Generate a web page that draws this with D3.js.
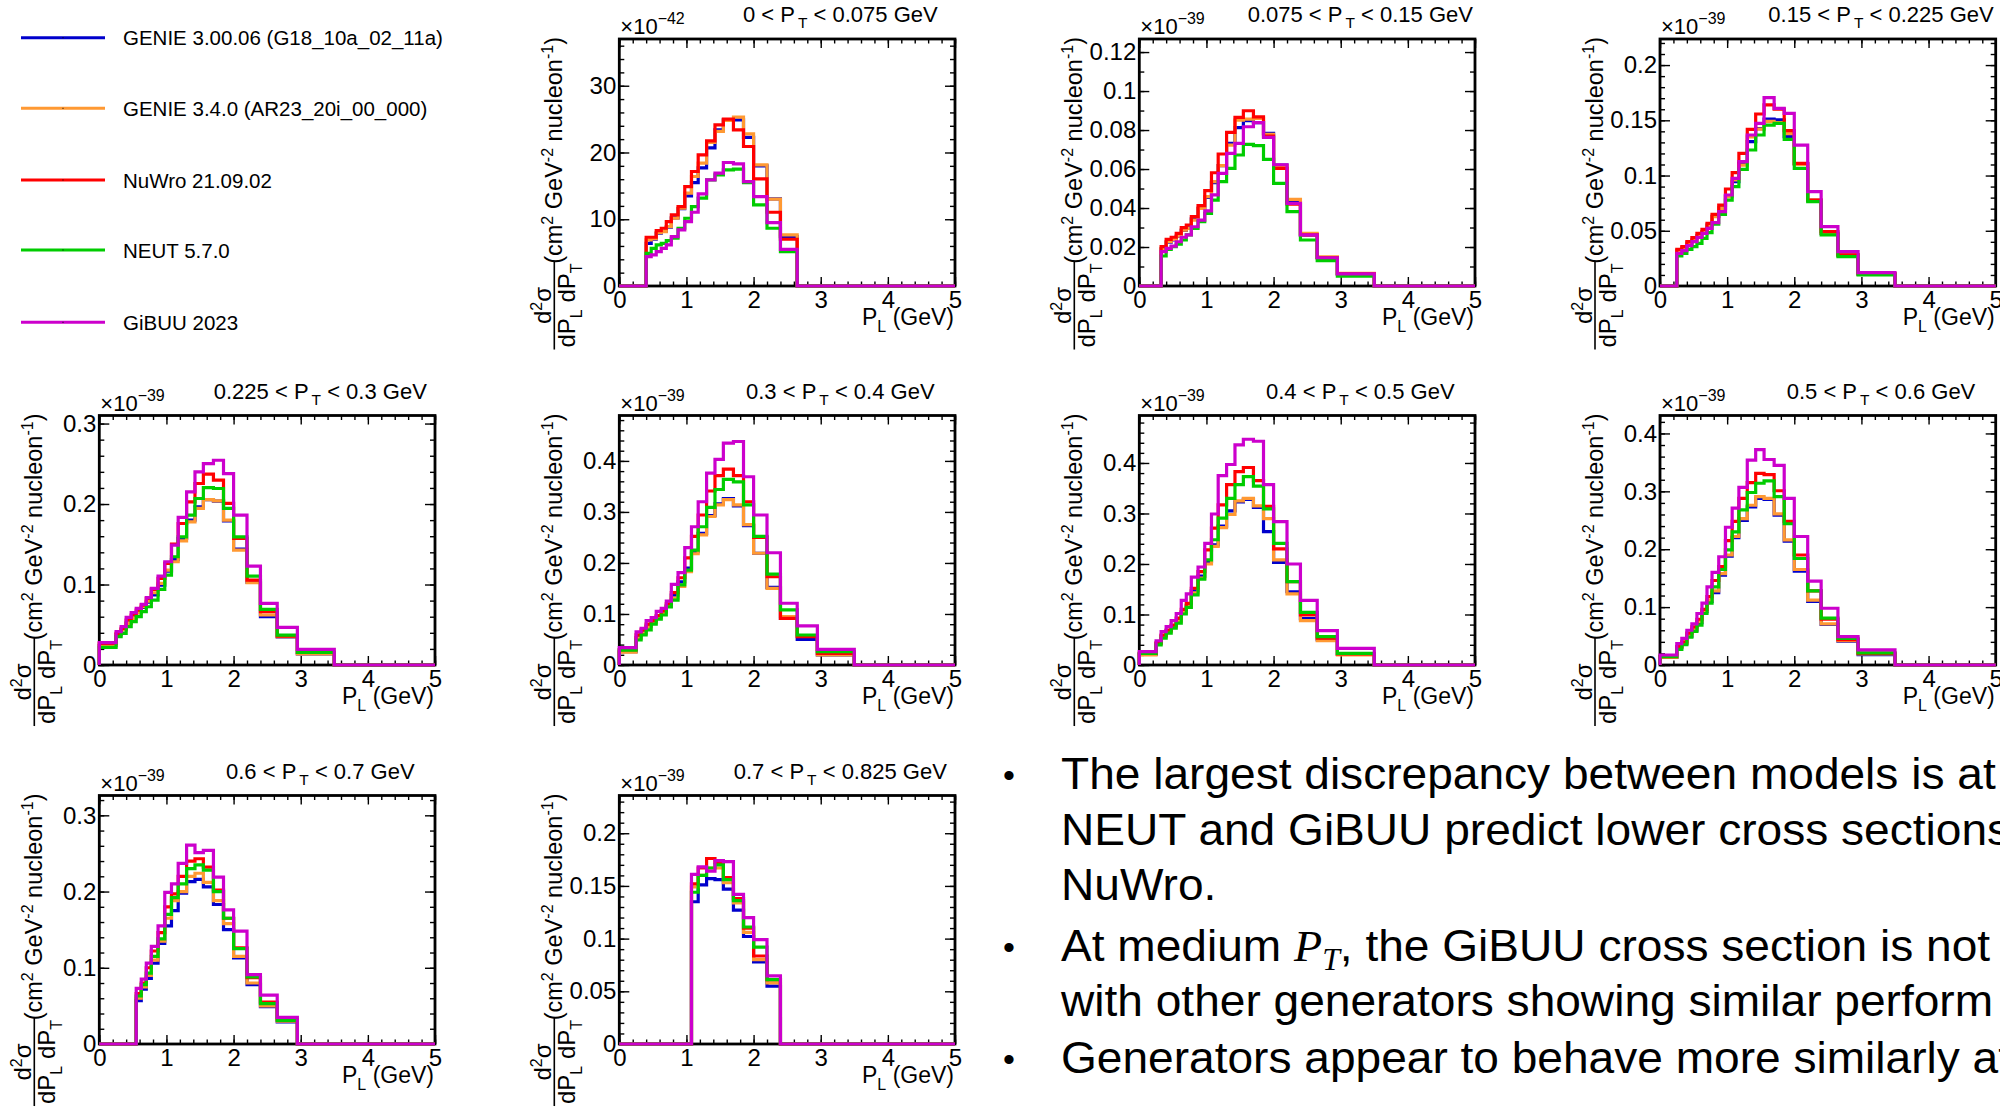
<!DOCTYPE html>
<html><head><meta charset="utf-8">
<script src="https://cdn.jsdelivr.net/npm/d3@7"></script>
<style>
html,body{margin:0;padding:0;background:#fff;overflow:hidden;}
svg{display:block;}
text{font-family:"Liberation Sans",Arial,Helvetica,sans-serif;fill:#000;}
</style></head><body>
<svg id="c" width="2000" height="1107"></svg>
<script>
// ---------------- DATA ----------------
const plEdges = [0,0.25,0.325,0.4,0.475,0.55,0.625,0.7,0.775,0.875,0.975,1.075,1.175,1.3,1.425,1.55,1.7,1.85,2.0,2.2,2.4,2.65,2.95,3.5,5];
const ptLow  = ["0","0.075","0.15","0.225","0.3","0.4","0.5","0.6","0.7"];
const ptHigh = ["0.075","0.15","0.225","0.3","0.4","0.5","0.6","0.7","0.825"];
const yExponent = ["42","39","39","39","39","39","39","39","39"];
const yMax   = [37, 0.1267, 0.2236, 0.310, 0.489, 0.494, 0.431, 0.326, 0.2358];
const yMajor = [10, 0.02, 0.05, 0.1, 0.1, 0.1, 0.1, 0.1, 0.05];
const yMinor = [2, 0.01, 0.01, 0.02, 0.02, 0.02, 0.02, 0.02, 0.01];
const xMajorTicks = [0,1,2,3,4,5];
const generators = ["GENIE 3.00.06 (G18_10a_02_11a)","GENIE 3.4.0 (AR23_20i_00_000)","NuWro 21.09.02","NEUT 5.7.0","GiBUU 2023"];

const genie3006 = [
 [0,0,0,6.4,7.0,7.9,8.2,8.8,10.2,11.6,13.5,15.5,17.7,20.7,23.4,24.9,24.9,22.25,18.0,13.05,7.4,0,0,0],
 [0,0,.019,.0225,.0237,.0255,.0285,.0298,.0345,.0398,.0455,.053,.0617,.0732,.0812,.0848,.0838,.0783,.062,.0432,.0262,.0145,.0062,0],
 [0,.032,.0344,.0386,.0416,.0453,.0492,.0552,.063,.0705,.0815,.0944,.111,.1307,.1425,.1512,.1503,.1352,.1105,.0775,.0477,.028,.0109,0],
 [.024,.0378,.0438,.052,.058,.065,.0715,.078,.087,.0993,.1165,.131,.1572,.18,.1965,.2056,.2035,.1791,.144,.103,.06,.035,.0137,0],
 [.026,.053,.063,.076,.085,.094,.104,.116,.137,.163,.19,.222,.258,.293,.316,.326,.312,.273,.219,.152,.0915,.05,.02,0],
 [.021,.043,.057,.067,.077,.088,.105,.118,.147,.176,.205,.238,.275,.305,.323,.328,.312,.264,.203,.145,.092,.05,.021,0],
 [.013,.03,.037,.05,.06,.073,.092,.11,.125,.155,.188,.22,.25,.273,.288,.286,.259,.214,.162,.11,.07,.041,.018,0],
 [0,0,0,0,0,.057,.072,.086,.106,.132,.155,.175,.198,.213,.216,.206,.183,.15,.113,.078,.049,.029,0,0],
 [0,0,0,0,0,0,0,0,0,0,0,.135,.151,.157,.156,.147,.127,.102,.078,.055,0,0,0,0]
];
const genie340 = [
 [0,0,0,6.9,7.1,8.0,8.15,8.9,10.15,11.65,13.9,16.4,18.4,21.5,23.15,24.8,25.3,22.8,18.15,13.0,7.65,0,0,0],
 [0,0,.0193,.0227,.0239,.0256,.0287,.0296,.0338,.0398,.0458,.0535,.0617,.0723,.0851,.0856,.086,.0778,.0617,.0444,.027,.015,.0065,0],
 [0,.032,.0344,.0386,.0416,.0453,.0492,.0552,.0628,.0703,.0809,.096,.1095,.135,.142,.149,.148,.138,.1101,.0778,.0477,.0281,.0109,0],
 [.0248,.038,.044,.0517,.0579,.065,.0724,.0794,.0898,.1014,.1179,.1283,.1543,.1779,.1945,.2056,.204,.18,.1427,.1022,.0621,.0352,.0137,0],
 [.025,.052,.062,.075,.083,.093,.103,.115,.131,.154,.183,.218,.255,.291,.314,.324,.314,.275,.219,.150,.095,.057,.0196,0],
 [.02,.042,.056,.066,.076,.087,.104,.116,.143,.172,.2,.235,.272,.298,.325,.33,.315,.29,.208,.141,.088,.048,.02,0],
 [.013,.031,.038,.052,.062,.075,.094,.112,.128,.158,.19,.222,.253,.276,.291,.288,.261,.216,.165,.112,.071,.042,.019,0],
 [0,0,0,0,0,.06,.075,.09,.11,.135,.165,.188,.2,.22,.224,.212,.188,.158,.115,.08,.05,.03,0,0],
 [0,0,0,0,0,0,0,0,0,0,0,.149,.16,.167,.167,.153,.134,.106,.08,.058,0,0,0,0]
];
const nuwro = [
 [0,0,0,7.3,7.3,8.3,8.65,9.65,10.65,11.9,14.9,17.15,19.65,21.75,24.15,25.0,23.4,20.9,16.05,11.05,7.0,0,0,0],
 [0,0,.0202,.0239,.025,.027,.0299,.0313,.0356,.0412,.0489,.0581,.0677,.0788,.0865,.0899,.0868,.0769,.0603,.042,.0262,.0145,.0062,0],
 [0,.0332,.0356,.0401,.0438,.0477,.0513,.0567,.0649,.0733,.0878,.1026,.1201,.1418,.1557,.1639,.1602,.1406,.111,.0778,.0492,.0281,.0109,0],
 [.0269,.0393,.0455,.0559,.0621,.0683,.0745,.0827,.0939,.1076,.1262,.1502,.1758,.2027,.2255,.2371,.2296,.2007,.1572,.1055,.0662,.036,.0157,0],
 [.030,.059,.069,.08,.087,.097,.106,.12,.142,.171,.21,.252,.294,.341,.371,.384,.371,.32,.25,.173,.0915,.0556,.0229,0],
 [.023,.044,.059,.069,.079,.093,.11,.122,.152,.185,.228,.271,.317,.357,.383,.391,.365,.314,.23,.165,.099,.053,.022,0],
 [.0144,.032,.04,.055,.066,.079,.096,.118,.146,.17,.215,.248,.288,.315,.331,.329,.301,.248,.19,.128,.079,.044,.02,0],
 [0,0,0,0,0,.066,.08,.1,.122,.146,.18,.197,.22,.24,.243,.232,.202,.165,.126,.087,.055,.032,0,0],
 [0,0,0,0,0,0,0,0,0,0,0,.152,.167,.176,.172,.158,.138,.11,.0835,.061,0,0,0,0]
];
const neut = [
 [0,0,0,4.9,5.65,6.15,6.4,6.8,7.15,8.65,10.15,11.9,13.15,15.9,16.65,17.4,17.5,15.5,12.15,8.65,5.15,0,0,0],
 [0,0,.0154,.0188,.0202,.0215,.0236,.0262,.0296,.033,.0373,.0441,.0535,.0603,.0672,.0726,.072,.065,.0526,.0381,.0236,.013,.0051,0],
 [0,.0272,.0296,.0332,.0356,.0386,.0432,.0483,.0561,.0649,.0778,.0899,.1056,.1231,.1367,.1457,.1473,.1328,.1065,.0763,.0462,.0266,.01,0],
 [.0219,.0352,.0393,.0476,.0538,.06,.0662,.0724,.0807,.0939,.1117,.1345,.1593,.1862,.2069,.2205,.2193,.1945,.1593,.1105,.0691,.0372,.0157,0],
 [.029,.049,.059,.069,.08,.09,.098,.114,.127,.157,.186,.225,.271,.309,.344,.364,.359,.314,.252,.178,.108,.0588,.026,0],
 [.023,.04,.053,.063,.073,.083,.101,.114,.139,.17,.208,.248,.291,.33,.357,.373,.354,.309,.241,.165,.104,.056,.023,0],
 [.0144,.027,.035,.048,.058,.069,.089,.107,.135,.165,.199,.23,.268,.298,.314,.318,.291,.244,.184,.128,.081,.046,.021,0],
 [0,0,0,0,0,.063,.078,.093,.115,.138,.17,.192,.21,.23,.235,.228,.2,.165,.125,.088,.053,.031,0,0],
 [0,0,0,0,0,0,0,0,0,0,0,.144,.16,.167,.17,.156,.136,.111,.092,.061,0,0,0,0]
];
const gibuu = [
 [0,0,0,4.4,4.65,5.15,5.65,6.15,7.4,8.4,9.65,11.05,13.8,15.9,16.9,18.5,18.3,15.65,13.4,9.5,5.5,0,0,0],
 [0,0,.0176,.0193,.0205,.0227,.025,.0262,.0304,.0338,.0385,.0467,.0578,.068,.0732,.0817,.0838,.0762,.0622,.0424,.0262,.0145,.0062,0],
 [0,.0296,.032,.0365,.0401,.044,.0477,.0522,.0573,.0673,.0824,.0975,.1126,.1367,.1473,.1705,.1608,.1563,.1276,.0854,.0537,.0311,.0121,0],
 [.0277,.0414,.0476,.0592,.065,.0703,.0753,.0836,.0952,.1105,.1283,.1489,.1833,.2151,.24,.2503,.2544,.2379,.1862,.1229,.0765,.0468,.0194,0],
 [.034,.065,.072,.087,.093,.105,.111,.125,.158,.181,.230,.271,.320,.376,.403,.435,.438,.369,.294,.220,.121,.0765,.0307,0],
 [.0264,.048,.066,.076,.088,.102,.128,.141,.174,.194,.241,.299,.375,.397,.436,.447,.443,.357,.284,.20,.128,.068,.033,0],
 [.0173,.037,.046,.06,.071,.089,.107,.135,.16,.187,.238,.271,.307,.354,.372,.355,.345,.288,.222,.145,.098,.049,.026,0],
 [0,0,0,0,0,.073,.085,.106,.128,.155,.199,.21,.237,.261,.251,.254,.219,.176,.148,.091,.064,.035,0,0],
 [0,0,0,0,0,0,0,0,0,0,0,.161,.168,.164,.174,.173,.142,.12,.099,.0646,0,0,0,0]
];
const seriesData = [genie3006, genie340, nuwro, neut, gibuu];

const bulletLines = [
 "The largest discrepancy between models is at",
 "NEUT and GiBUU predict lower cross sections",
 "NuWro.",
 ", the GiBUU cross section is not",
 "with other generators showing similar perform",
 "Generators appear to behave more similarly at"
];

// ---------------- STYLE / LAYOUT ----------------
const colors = ["#0000cc","#ff9933","#ff0000","#00cc00","#cc00cc"];
const colX = [99.3, 619.3, 1139.3, 1660];
const rowTop = [39, 415.5, 795.5];
const rowBot = [286, 665, 1044];
const panelPos = [[0,1],[0,2],[0,3],[1,0],[1,1],[1,2],[1,3],[2,0],[2,1]];
const FW = 335.7;
const FONT = '"Liberation Sans",Arial,Helvetica,sans-serif';

const svg = d3.select("#c");
svg.append("rect").attr("width",2000).attr("height",1107).attr("fill","#fff");
const defs = svg.append("defs");

function cleanNum(v){ return String(+v.toFixed(6)); }

panelPos.forEach(([r,c], i) => {
  const fl = colX[c], fr = fl + FW, ft = rowTop[r], fb = rowBot[r];
  const x = d3.scaleLinear().domain([0,5]).range([fl,fr]);
  const y = d3.scaleLinear().domain([0,yMax[i]]).range([fb,ft]);
  const g = svg.append("g");

  g.append("rect").attr("x",fl).attr("y",ft).attr("width",fr-fl).attr("height",fb-ft)
    .attr("fill","none").attr("stroke","#000").attr("stroke-width",2.8);

  const nMaj = Math.floor(yMax[i]/yMajor[i] + 1e-6);
  const yMajT = d3.range(0, nMaj+1).map(k => k*yMajor[i]);
  const nMin = Math.floor(yMax[i]/yMinor[i] + 1e-6);
  const yMinT = d3.range(0, nMin+1).map(k => k*yMinor[i]);
  const xMinT = d3.range(0, 26).map(k => k*0.2);

  function styleAxis(sel){
    sel.select(".domain").remove();
    sel.selectAll(".tick line").attr("stroke","#000").attr("stroke-width",1.4);
    sel.attr("font-family",FONT).attr("font-size",24);
    sel.selectAll("text").attr("fill","#000");
  }
  g.append("g").attr("transform",`translate(0,${fb})`)
    .call(d3.axisBottom(x).tickValues(xMinT).tickSize(-4.5).tickFormat("")).call(styleAxis);
  g.append("g").attr("transform",`translate(0,${fb})`)
    .call(d3.axisBottom(x).tickValues(xMajorTicks).tickSize(-9).tickPadding(5).tickFormat(d3.format("d"))).call(styleAxis);
  g.append("g").attr("transform",`translate(0,${ft})`)
    .call(d3.axisTop(x).tickValues(xMinT).tickSize(-4.5).tickFormat("")).call(styleAxis);
  g.append("g").attr("transform",`translate(0,${ft})`)
    .call(d3.axisTop(x).tickValues(xMajorTicks).tickSize(-9).tickFormat("")).call(styleAxis);
  g.append("g").attr("transform",`translate(${fl},0)`)
    .call(d3.axisLeft(y).tickValues(yMinT).tickSize(-5).tickFormat("")).call(styleAxis);
  g.append("g").attr("transform",`translate(${fl},0)`)
    .call(d3.axisLeft(y).tickValues(yMajT).tickSize(-10).tickPadding(3).tickFormat(cleanNum)).call(styleAxis);
  g.append("g").attr("transform",`translate(${fr},0)`)
    .call(d3.axisRight(y).tickValues(yMinT).tickSize(-5).tickFormat("")).call(styleAxis);
  g.append("g").attr("transform",`translate(${fr},0)`)
    .call(d3.axisRight(y).tickValues(yMajT).tickSize(-10).tickFormat("")).call(styleAxis);

  const cid = "clip"+i;
  defs.append("clipPath").attr("id",cid).append("rect")
    .attr("x",fl-3).attr("y",ft).attr("width",fr-fl+6).attr("height",fb-ft+3);

  const hg = g.append("g").attr("clip-path",`url(#${cid})`);
  seriesData.forEach((ser, s) => {
    const vals = ser[i];
    const p = d3.path();
    p.moveTo(x(plEdges[0]), y(0));
    vals.forEach((v,b) => { p.lineTo(x(plEdges[b]), y(v)); p.lineTo(x(plEdges[b+1]), y(v)); });
    p.lineTo(x(plEdges[plEdges.length-1]), y(0));
    hg.append("path").attr("d", p.toString()).attr("fill","none")
      .attr("stroke", colors[s]).attr("stroke-width",3.2).attr("stroke-linejoin","miter");
  });

  // title
  const t = g.append("text").attr("x", fl+221).attr("y", ft-17).attr("text-anchor","middle")
    .attr("font-size",22);
  t.append("tspan").text(ptLow[i] + " < P");
  t.append("tspan").attr("font-size",15.5).attr("dy",6).attr("dx",3).text("T");
  t.append("tspan").attr("dy",-6).text(" < " + ptHigh[i] + " GeV");

  // exponent
  const e = g.append("text").attr("x", fl+1).attr("y", ft-5).attr("font-size",22);
  e.append("tspan").text("×10");
  e.append("tspan").attr("font-size",16).attr("dy",-10).text("−" + yExponent[i]);

  // x title
  const xt = g.append("text").attr("x", fr-1).attr("y", fb+39).attr("text-anchor","end").attr("font-size",23);
  xt.append("tspan").text("P");
  xt.append("tspan").attr("font-size",16).attr("dy",7).text("L");
  xt.append("tspan").attr("dy",-7).text(" (GeV)");

  // y title (rotated)
  const yg = g.append("g").attr("transform",`translate(${fl-57},${ft}) rotate(-90)`);
  const yt = yg.append("text").attr("x",2).attr("y",0).attr("text-anchor","end").attr("font-size",23.5);
  yt.append("tspan").text("(cm");
  yt.append("tspan").attr("font-size",16).attr("dy",-9).text("2");
  yt.append("tspan").attr("dy",9).text(" GeV");
  yt.append("tspan").attr("font-size",16).attr("dy",-9).text("-2");
  yt.append("tspan").attr("dy",9).text(" nucleon");
  yt.append("tspan").attr("font-size",16).attr("dy",-9).text("-1");
  yt.append("tspan").attr("dy",9).text(")");
  const fc = -266.5;
  const num = yg.append("text").attr("x",fc).attr("y",-11.5).attr("text-anchor","middle").attr("font-size",24);
  num.append("tspan").text("d");
  num.append("tspan").attr("font-size",16).attr("dy",-9).text("2");
  num.append("tspan").attr("dy",9).text("σ");
  const den = yg.append("text").attr("x",fc).attr("y",12.5).attr("text-anchor","middle").attr("font-size",24);
  den.append("tspan").text("dP");
  den.append("tspan").attr("font-size",16).attr("dy",7).text("L");
  den.append("tspan").attr("dy",-7).text(" dP");
  den.append("tspan").attr("font-size",16).attr("dy",7).text("T");
  const dw = den.node().getComputedTextLength();
  yg.append("line").attr("x1",fc-dw/2-2).attr("x2",fc+dw/2+2).attr("y1",-8).attr("y2",-8)
    .attr("stroke","#000").attr("stroke-width",1.6);
});

// legend
const legY = [37.7, 108.3, 180, 250, 322.3];
generators.forEach((name, s) => {
  const lg = svg.append("g");
  lg.append("line").attr("x1",21).attr("x2",105).attr("y1",legY[s]).attr("y2",legY[s])
    .attr("stroke",colors[s]).attr("stroke-width",3);
  lg.append("rect").attr("x",62.5).attr("y",legY[s]-0.5).attr("width",1).attr("height",1).attr("fill","#000");
  lg.append("text").attr("x",123).attr("y",legY[s]+7.5).attr("font-size",20.5).text(name);
});

// bullet text
const bx = 1061, bulletX = 1003;
const baseY = [789, 845, 900, 961, 1016, 1073];
const hasBullet = [true,false,false,true,false,true];
const BF = '"Liberation Sans Narrow","Liberation Sans",Arial,sans-serif';
const bg = svg.append("g");
const probe = bg.append("text").attr("font-size",45).attr("font-family",BF).text(bulletLines[0]);
const sx = 935 / probe.node().getComputedTextLength();
probe.remove();
bulletLines.forEach((ln, k) => {
  if (hasBullet[k]) {
    bg.append("text").attr("x",bulletX).attr("y",baseY[k]-2).attr("font-size",34).attr("font-family",BF).text("•");
  }
  const tx = bg.append("text").attr("transform",`translate(${bx},${baseY[k]}) scale(${sx},1)`)
    .attr("font-size",45).attr("font-family",BF);
  if (k === 3) {
    tx.append("tspan").text("At medium ");
    tx.append("tspan").attr("font-family","'Liberation Serif','DejaVu Serif',serif").attr("font-style","italic").text("P");
    tx.append("tspan").attr("font-family","'Liberation Serif','DejaVu Serif',serif").attr("font-style","italic")
      .attr("font-size",31).attr("dy",9).text("T");
    tx.append("tspan").attr("dy",-9).text(ln);
  } else {
    tx.text(ln);
  }
});
</script>
</body></html>
